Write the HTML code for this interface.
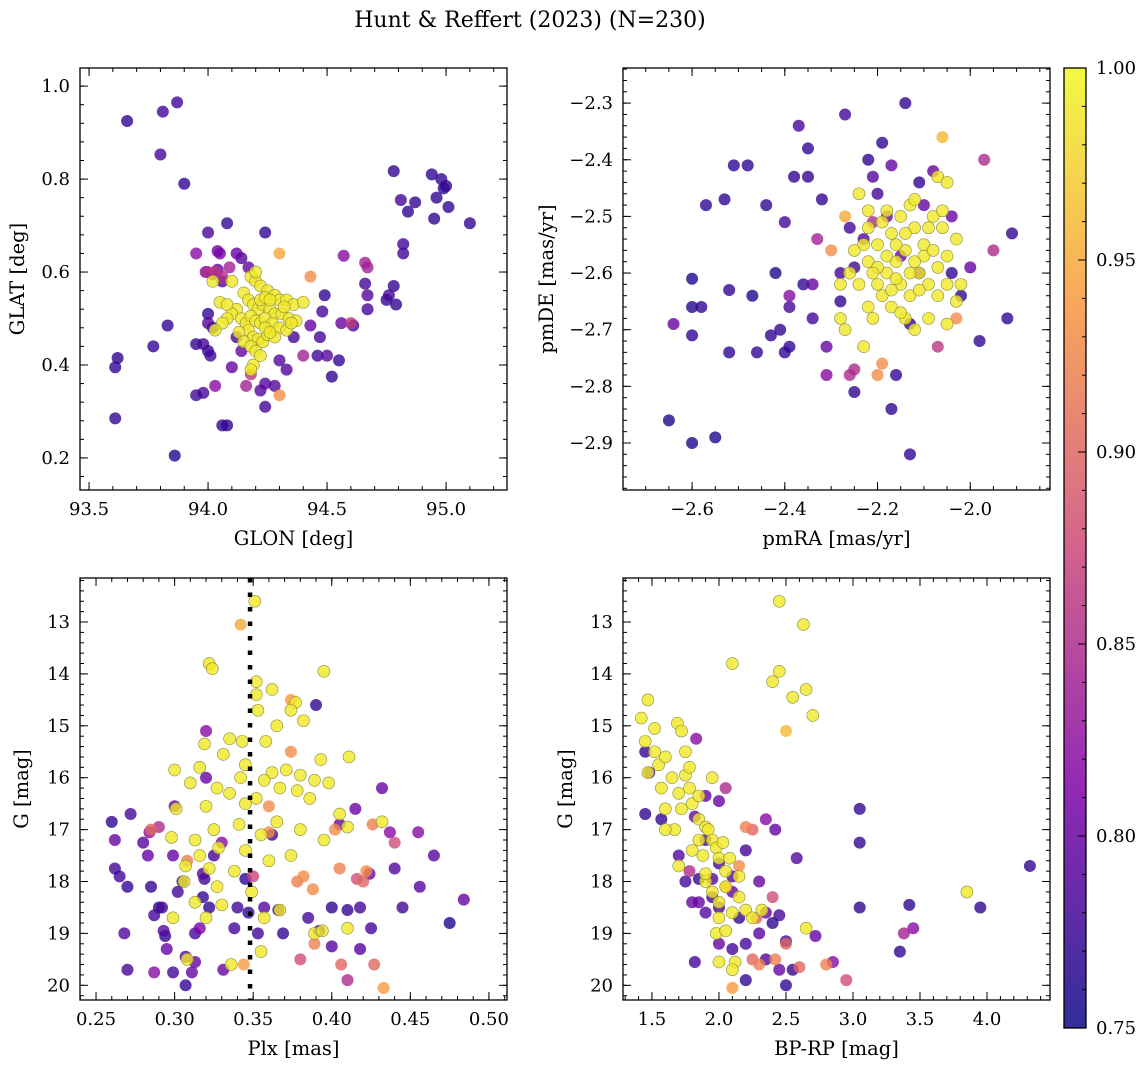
<!DOCTYPE html>
<html><head><meta charset="utf-8"><style>
html,body{margin:0;padding:0;background:#fff;}
svg{display:block;font-family:"DejaVu Serif","Liberation Serif",serif;}
</style></head><body>
<svg id="fig" width="1148" height="1067" viewBox="0 0 1148 1067" xmlns="http://www.w3.org/2000/svg">
<text x="530" y="27" font-size="22" text-anchor="middle">Hunt &amp; Reffert (2023) (N=230)</text>
</svg>
<script>
// ===== Panel 1: GLON / GLAT =====
const p1Glon=[94.18,94.20,94.22,94.25,94.28,94.30,94.33,94.36,94.40,94.15,94.17,94.19,94.21,94.23,94.26,94.28,94.31,94.34,94.37,94.12,94.10,94.08,94.06,94.03,94.14,94.16,94.18,94.20,94.22,94.24,94.27,94.30,94.33,94.17,94.19,94.21,94.23,94.25,94.28,94.13,94.15,94.18,94.20,94.22,94.19,94.18,94.24,94.26,94.10,94.20,94.22,94.24,94.26,94.32,94.05,94.08,94.35,94.02,
94.30,94.43,94.30,94.00,94.03,94.09,94.16,94.03,94.06,94.60,94.57,94.66,94.67,94.18,94.40,
93.66,93.81,93.87,93.80,93.90,93.61,93.62,93.61,93.86,93.77,93.83,93.95,93.95,93.98,94.00,94.01,94.00,94.02,94.00,94.08,94.24,94.06,94.08,93.95,94.04,94.05,94.12,94.14,93.99,94.02,94.04,94.06,94.00,94.24,94.30,94.78,94.94,94.98,94.99,95.00,94.81,94.87,94.84,94.96,95.01,94.95,95.10,94.82,94.82,94.78,94.76,94.75,94.66,94.67,94.79,94.67,94.56,94.61,94.49,94.48,94.55,94.52,94.46,94.50,94.47,94.43,94.33,94.12,94.14,94.24,94.28,94.10,93.98,94.36,94.17,94.22];
const p1Glat=[0.59,0.58,0.57,0.56,0.55,0.54,0.54,0.53,0.535,0.555,0.54,0.53,0.52,0.53,0.52,0.51,0.51,0.50,0.495,0.52,0.51,0.50,0.49,0.475,0.50,0.49,0.505,0.495,0.49,0.50,0.49,0.48,0.475,0.475,0.46,0.455,0.45,0.465,0.46,0.47,0.45,0.44,0.43,0.42,0.40,0.39,0.48,0.47,0.58,0.60,0.54,0.545,0.54,0.525,0.535,0.53,0.49,0.58,
0.64,0.59,0.335,0.60,0.60,0.61,0.355,0.355,0.59,0.49,0.635,0.62,0.61,0.38,0.42,
0.925,0.945,0.965,0.853,0.79,0.395,0.415,0.285,0.205,0.44,0.485,0.335,0.445,0.445,0.43,0.42,0.49,0.48,0.685,0.705,0.685,0.27,0.27,0.64,0.645,0.64,0.64,0.63,0.60,0.595,0.605,0.58,0.51,0.31,0.41,0.817,0.81,0.80,0.78,0.785,0.755,0.75,0.73,0.76,0.74,0.715,0.705,0.66,0.64,0.57,0.55,0.54,0.575,0.55,0.53,0.52,0.49,0.485,0.55,0.515,0.41,0.375,0.42,0.42,0.46,0.485,0.39,0.46,0.43,0.36,0.355,0.395,0.34,0.46,0.61,0.345];
const p1Prob=[.99,.99,.99,.99,.99,.99,.99,.99,.99,.99,.99,.99,.99,.99,.99,.99,.99,.99,.99,.99,.99,.99,.99,.99,.99,.99,.99,.99,.99,.99,.99,.99,.99,.99,.99,.99,.99,.99,.99,.99,.99,.99,.99,.99,.99,.99,.99,.99,.99,.99,.99,.99,.99,.99,.99,.99,.99,.99,
.95,.93,.93,.85,.86,.84,.84,.82,.85,.86,.82,.84,.84,.86,.84,
.77,.78,.78,.78,.77,.77,.77,.77,.76,.77,.77,.78,.77,.78,.77,.78,.79,.77,.78,.77,.77,.77,.77,.82,.8,.81,.8,.79,.82,.81,.8,.79,.77,.78,.79,.77,.77,.77,.77,.77,.78,.77,.77,.77,.77,.77,.77,.78,.78,.77,.78,.77,.78,.79,.77,.78,.8,.78,.77,.78,.77,.77,.78,.79,.78,.8,.79,.78,.8,.79,.79,.8,.78,.78,.8,.79];
const p1XTicks=[93.5,94.0,94.5,95.0];
const p1YTicks=[0.2,0.4,0.6,0.8,1.0];

// ===== Panel 2: pmRA / pmDE =====
const p2Pmra=[-2.65,-2.60,-2.55,-2.64,-2.60,-2.60,-2.58,-2.60,-2.57,-2.53,-2.51,-2.48,-2.52,-2.52,-2.47,-2.46,-2.44,-2.43,-2.41,-2.40,-2.39,-2.42,-2.40,-2.39,-2.39,-2.38,-2.37,-2.35,-2.36,-2.35,-2.34,-2.34,-2.33,-2.32,-2.30,-2.31,-2.28,-2.28,-2.27,-2.27,-2.26,-2.25,-2.26,-2.25,-2.22,-2.21,-2.19,-2.18,-2.20,-2.17,-2.14,-2.13,-2.13,-2.16,-2.17,-2.15,-2.11,-2.08,-2.10,-2.04,-2.02,-1.98,-1.92,-1.91,-1.95,-1.97,-2.07,-2.03,-2.00,-2.23,-2.19,-2.20,-2.31,-2.21,-2.25,-2.11,-2.04,-2.06,
-2.24,-2.22,-2.20,-2.18,-2.17,-2.15,-2.13,-2.12,-2.10,-2.08,-2.06,-2.05,-2.03,-2.07,-2.12,-2.14,-2.16,-2.18,-2.20,-2.22,-2.24,-2.26,-2.28,-2.28,-2.27,-2.23,-2.21,-2.19,-2.17,-2.15,-2.13,-2.11,-2.09,-2.07,-2.05,-2.03,-2.07,-2.05,-2.09,-2.12,-2.14,-2.16,-2.18,-2.20,-2.10,-2.08,-2.12,-2.14,-2.16,-2.23,-2.19,-2.06,-2.02,-2.09,-2.25,-2.11,-2.13,-2.17,-2.21,-2.15,-2.22,-2.05,-2.22];
const p2Pmde=[-2.86,-2.90,-2.89,-2.69,-2.61,-2.66,-2.66,-2.71,-2.48,-2.47,-2.41,-2.41,-2.63,-2.74,-2.64,-2.74,-2.48,-2.71,-2.70,-2.74,-2.73,-2.60,-2.51,-2.64,-2.66,-2.43,-2.34,-2.43,-2.62,-2.38,-2.68,-2.62,-2.54,-2.47,-2.56,-2.73,-2.60,-2.65,-2.32,-2.50,-2.52,-2.81,-2.78,-2.77,-2.40,-2.43,-2.37,-2.50,-2.46,-2.41,-2.30,-2.92,-2.69,-2.78,-2.84,-2.57,-2.44,-2.42,-2.48,-2.60,-2.64,-2.72,-2.68,-2.53,-2.56,-2.40,-2.73,-2.68,-2.59,-2.54,-2.76,-2.78,-2.78,-2.51,-2.59,-2.60,-2.50,-2.36,
-2.46,-2.52,-2.55,-2.49,-2.53,-2.50,-2.48,-2.52,-2.55,-2.50,-2.52,-2.57,-2.54,-2.43,-2.47,-2.56,-2.58,-2.60,-2.62,-2.58,-2.62,-2.60,-2.62,-2.68,-2.70,-2.73,-2.68,-2.64,-2.66,-2.62,-2.64,-2.60,-2.62,-2.59,-2.62,-2.65,-2.64,-2.69,-2.68,-2.70,-2.68,-2.61,-2.57,-2.59,-2.57,-2.56,-2.58,-2.53,-2.55,-2.55,-2.51,-2.49,-2.62,-2.52,-2.56,-2.63,-2.60,-2.63,-2.60,-2.67,-2.66,-2.44,-2.49];
const p2Prob=[.76,.76,.76,.8,.76,.76,.77,.77,.77,.77,.77,.77,.77,.77,.76,.77,.77,.77,.77,.77,.77,.76,.78,.82,.78,.77,.78,.77,.77,.77,.78,.8,.84,.77,.93,.8,.78,.77,.78,.95,.78,.77,.85,.85,.77,.79,.77,.8,.78,.8,.77,.77,.77,.77,.77,.8,.77,.8,.8,.77,.77,.77,.77,.77,.85,.85,.86,.93,.8,.79,.93,.93,.82,.85,.78,.8,.8,.96,
.99,.99,.99,.99,.99,.99,.99,.99,.99,.99,.99,.99,.99,.99,.99,.99,.99,.99,.99,.99,.99,.99,.99,.99,.99,.99,.99,.99,.99,.99,.99,.99,.99,.99,.99,.99,.99,.99,.99,.99,.99,.99,.99,.99,.99,.99,.99,.99,.99,.99,.99,.99,.99,.99,.99,.99,.99,.99,.99,.99,.99,.99,.99];
const p2XTicks=[-2.6,-2.4,-2.2,-2.0];
const p2YTicks=[-2.9,-2.8,-2.7,-2.6,-2.5,-2.4,-2.3];

// ===== Panel 3: Plx / G =====
const p3Plx=[0.351,0.322,0.324,0.395,0.362,0.352,0.352,0.353,0.377,0.374,0.365,0.382,0.343,0.335,0.319,0.358,0.331,0.393,0.411,0.300,0.316,0.345,0.362,0.371,0.380,0.389,0.357,0.342,0.327,0.310,0.335,0.367,0.378,0.398,0.352,0.345,0.320,0.301,0.386,0.405,0.365,0.341,0.325,0.313,0.298,0.355,0.380,0.395,0.410,0.432,0.328,0.345,0.316,0.307,0.322,0.338,0.360,0.374,0.306,0.327,0.349,0.313,0.330,0.299,0.320,0.357,0.367,0.389,0.394,0.410,0.308,0.336,0.355,
0.342,0.374,0.374,0.360,0.285,0.308,0.360,0.382,0.378,0.388,0.405,0.422,0.440,0.416,0.420,0.389,0.406,0.427,0.433,0.344,0.380,0.402,0.426,0.410,0.350,
0.260,0.262,0.262,0.265,0.270,0.268,0.270,0.272,0.280,0.283,0.285,0.287,0.287,0.290,0.292,0.293,0.294,0.295,0.299,0.300,0.302,0.305,0.307,0.311,0.313,0.313,0.318,0.316,0.318,0.320,0.320,0.319,0.322,0.325,0.307,0.331,0.338,0.340,0.345,0.347,0.353,0.357,0.362,0.366,0.369,0.385,0.390,0.392,0.400,0.400,0.405,0.410,0.415,0.418,0.418,0.425,0.424,0.432,0.437,0.440,0.445,0.455,0.456,0.475,0.484,0.465,0.330,0.299,0.290,0.284];
const p3G=[12.6,13.8,13.9,13.95,14.3,14.15,14.4,14.7,14.55,14.7,15.0,14.9,15.3,15.25,15.35,15.3,15.55,15.65,15.6,15.85,15.8,15.75,15.9,15.85,15.95,16.05,16.05,16.0,16.2,16.1,16.3,16.2,16.25,16.1,16.4,16.5,16.55,16.6,16.4,16.7,16.85,16.9,17.0,17.2,17.15,17.1,17.0,17.2,16.95,16.85,17.35,17.4,17.5,17.7,17.75,17.8,17.6,17.5,18.0,18.1,18.2,18.4,18.45,18.7,18.7,18.7,18.55,19.0,18.95,18.9,19.5,19.6,19.35,
13.05,14.5,15.5,16.55,17.0,17.6,17.05,17.9,18.0,18.15,17.75,17.8,17.25,17.95,18.0,19.2,19.6,19.6,20.05,19.6,19.5,17.0,16.9,19.9,17.9,
16.85,17.2,17.75,17.9,18.1,19.0,19.7,16.7,17.25,17.5,18.1,18.65,19.75,18.5,18.5,18.95,19.05,19.3,19.75,16.55,18.2,18.0,19.45,19.75,19.55,19.0,18.3,18.9,17.85,15.1,16.0,17.95,18.5,17.5,20.0,19.7,18.9,18.5,17.95,18.6,19.0,18.5,17.1,18.55,19.0,18.7,14.6,18.95,18.5,19.25,16.9,18.55,16.6,18.5,19.3,18.9,17.85,16.2,17.05,17.75,18.5,17.05,18.1,18.8,18.35,17.5,17.25,17.5,16.95,17.05];
const p3Prob=[.99,.99,.99,.99,.99,.99,.99,.99,.99,.99,.99,.99,.99,.99,.99,.99,.99,.99,.99,.99,.99,.99,.99,.99,.99,.99,.99,.99,.99,.99,.99,.99,.99,.99,.99,.99,.99,.99,.99,.99,.99,.99,.99,.99,.99,.99,.99,.99,.99,.99,.99,.99,.99,.99,.99,.99,.99,.99,.99,.99,.99,.99,.99,.99,.99,.99,.99,.99,.99,.99,.99,.99,.99,
.95,.94,.93,.93,.9,.92,.93,.93,.92,.93,.92,.93,.88,.88,.9,.92,.9,.9,.94,.94,.88,.93,.92,.85,.87,
.77,.8,.78,.78,.77,.79,.78,.78,.79,.8,.77,.78,.82,.77,.78,.79,.77,.8,.78,.8,.78,.77,.79,.8,.8,.78,.77,.81,.79,.82,.8,.78,.77,.78,.77,.8,.78,.78,.77,.77,.78,.79,.78,.77,.77,.78,.77,.78,.77,.79,.8,.77,.8,.78,.79,.78,.8,.8,.82,.79,.78,.82,.79,.76,.8,.79,.82,.8,.85,.82];
const p3XTicks=[0.25,0.30,0.35,0.40,0.45,0.50];
const gTicks=[13,14,15,16,17,18,19,20];
const plxLine=[0.348];

// ===== Panel 4: BP-RP / G =====
const p4Bprp=[1.42,1.47,1.52,1.45,1.47,1.52,1.55,1.57,1.60,1.60,1.65,1.69,1.72,1.75,1.75,1.70,1.72,1.67,1.78,1.80,1.85,1.90,1.85,1.80,1.88,1.92,1.95,1.98,2.00,2.05,2.03,2.08,1.90,1.95,2.00,2.05,2.10,2.15,2.20,2.00,1.98,2.05,2.12,2.00,2.10,2.45,2.63,2.10,2.40,2.45,2.55,2.65,2.70,2.50,3.85,2.65,2.32,1.60,1.70,1.90,2.15,2.25,1.95,1.85,1.78,1.83,
2.10,2.42,2.60,2.80,2.95,2.30,2.25,2.50,2.25,2.15,2.40,2.28,2.20,2.05,
1.45,1.48,1.45,1.57,1.82,1.90,1.70,1.75,1.80,1.85,1.95,1.90,2.00,2.10,2.15,2.20,2.30,2.35,2.40,2.45,2.50,2.55,2.45,2.50,2.35,2.10,2.20,2.00,1.82,2.72,2.85,3.05,3.05,3.05,3.35,3.42,3.38,3.45,3.95,4.32,2.58,2.42,2.35,2.20,2.10,2.30,2.00,1.95,1.85,1.78,2.05,2.00,1.90];
const p4G=[14.85,14.5,15.05,15.3,15.9,15.5,15.75,16.2,15.6,16.6,16.0,14.95,15.1,15.5,15.95,16.3,16.6,17.0,16.2,16.5,16.8,16.95,17.2,17.4,17.5,17.0,17.2,17.35,17.55,17.8,17.25,17.55,18.0,18.2,18.4,18.1,18.6,18.3,18.55,18.7,19.0,18.95,19.55,19.55,19.7,12.6,13.05,13.8,14.15,13.95,14.45,14.3,14.8,15.1,18.2,18.9,18.55,17.0,17.7,17.85,17.9,18.7,16.0,16.35,15.8,15.25,
20.05,19.5,19.65,19.6,19.9,19.6,19.5,19.2,17.0,17.7,18.3,18.7,16.95,18.1,
15.5,15.9,16.7,16.8,16.75,17.2,17.5,18.0,18.4,17.95,18.3,18.6,18.5,18.2,18.7,19.2,19.0,18.6,18.8,18.65,19.15,19.7,19.7,20.0,19.5,19.3,19.9,19.2,19.55,19.05,19.55,16.6,17.25,18.5,19.35,18.45,19.0,18.9,18.5,17.7,17.55,17.0,16.8,17.4,17.9,18.0,17.65,17.95,18.4,17.8,16.2,16.45,16.35];
const p4Prob=[.99,.99,.99,.99,.99,.99,.99,.99,.99,.99,.99,.99,.99,.99,.99,.99,.99,.99,.99,.99,.99,.99,.99,.99,.99,.99,.99,.99,.99,.99,.99,.99,.99,.99,.99,.99,.99,.99,.99,.99,.99,.99,.99,.99,.99,.99,.99,.99,.99,.99,.99,.99,.99,.96,.99,.99,.99,.99,.99,.99,.99,.99,.99,.99,.99,.82,
.94,.92,.9,.92,.88,.92,.9,.9,.9,.93,.88,.9,.92,.93,
.77,.78,.77,.77,.8,.78,.79,.78,.8,.77,.78,.79,.78,.8,.77,.78,.79,.8,.77,.78,.78,.77,.8,.77,.79,.78,.77,.8,.78,.8,.82,.77,.77,.77,.77,.77,.84,.82,.77,.77,.79,.8,.82,.78,.79,.8,.78,.79,.8,.85,.85,.8,.8];
const p4XTicks=[1.5,2.0,2.5,3.0,3.5,4.0];

// ===== Colorbar =====
const cbTicks=[0.75,0.80,0.85,0.90,0.95,1.00];
const cbRange=[0.75,1.00];

const NS="http://www.w3.org/2000/svg";
const svg=document.getElementById('fig');
function mk(tag,attrs,parent){const e=document.createElementNS(NS,tag);for(const k in attrs)e.setAttribute(k,attrs[k]);(parent||svg).appendChild(e);return e;}
const stops=[[0,[13,8,135]],[0.25,[126,3,168]],[0.5,[204,71,120]],[0.75,[248,149,64]],[1,[240,249,33]]];
function plasma(t){t=Math.max(0,Math.min(1,t));for(let i=0;i<stops.length-1;i++){const a=stops[i],b=stops[i+1];if(t<=b[0]){const f=(t-a[0])/(b[0]-a[0]);return 'rgb('+a[1].map((v,j)=>Math.round(v+(b[1][j]-v)*f)).join(',')+')';}}return 'rgb(240,249,33)';}
function cnorm(p){return (p-cbRange[0])/(cbRange[1]-cbRange[0]);}
function fmt(v,d){return (v<0?'\u2212':'')+Math.abs(v).toFixed(d);}
const TICKFS=18, LABFS=19.5;

function panel(o){
  const g=mk('g',{});
  
  
  const L=o.box[0],T=o.box[1],R=o.box[2],B=o.box[3];
  const sx=v=>L+(v-o.xr[0])/(o.xr[1]-o.xr[0])*(R-L);
  const sy=o.yinv?(v=>T+(v-o.yr[0])/(o.yr[1]-o.yr[0])*(B-T)):(v=>B-(v-o.yr[0])/(o.yr[1]-o.yr[0])*(B-T));
  const pts=mk('g',{},g);
  
  
  const idx=o.x.map((_,i)=>i).sort((a,b)=>o.c[a]-o.c[b]);
  idx.forEach(i=>{
    const hi=o.c[i]>0.97;
    const c=mk('circle',{cx:sx(o.x[i]),cy:sy(o.y[i]),r:6,fill:plasma(cnorm(o.c[i])),'fill-opacity':0.8,stroke:hi?'#8a8a40':'none','stroke-width':0.6},pts);
    
    
  });
  if(o.vline){o.vline.forEach(v=>{const l=mk('line',{x1:sx(v),x2:sx(v),y1:T,y2:B,stroke:'#000','stroke-width':4.5,'stroke-dasharray':'4.5 10'},g);
    
    });}
  const fr=mk('rect',{x:L,y:T,width:R-L,height:B-T,fill:'none',stroke:'#000','stroke-width':1.3},g);
  
  
  const tk=mk('g',{stroke:'#000','stroke-width':1},g);
  
  
  const xmin=Math.min(...o.xr),xmax=Math.max(...o.xr),ymin=Math.min(...o.yr),ymax=Math.max(...o.yr);
  for(let v=Math.ceil(xmin/o.xminor-1e-6)*o.xminor;v<=xmax+1e-9;v+=o.xminor){const X=sx(v);mk('line',{x1:X,x2:X,y1:B,y2:B-4},tk);mk('line',{x1:X,x2:X,y1:T,y2:T+4},tk);}
  for(let v=Math.ceil(ymin/o.yminor-1e-6)*o.yminor;v<=ymax+1e-9;v+=o.yminor){const Y=sy(v);mk('line',{x1:L,x2:L+4,y1:Y,y2:Y},tk);mk('line',{x1:R,x2:R-4,y1:Y,y2:Y},tk);}
  o.xt.forEach(v=>{const X=sx(v);mk('line',{x1:X,x2:X,y1:B,y2:B-8},tk);mk('line',{x1:X,x2:X,y1:T,y2:T+8},tk);
    const t=mk('text',{x:X,y:B+25,'font-size':TICKFS,'text-anchor':'middle'},g);t.textContent=fmt(v,o.xd);
    
    });
  o.yt.forEach(v=>{const Y=sy(v);mk('line',{x1:L,x2:L+8,y1:Y,y2:Y},tk);mk('line',{x1:R,x2:R-8,y1:Y,y2:Y},tk);
    const t=mk('text',{x:L-10,y:Y+6,'font-size':TICKFS,'text-anchor':'end'},g);t.textContent=fmt(v,o.yd);
    
    });
  const xl=mk('text',{x:(L+R)/2,y:B+55,'font-size':LABFS,'text-anchor':'middle'},g);xl.textContent=o.xlab;
  
  
  const yx=o.ylx,yy=(T+B)/2;
  const yl=mk('text',{x:yx,y:yy,'font-size':LABFS,'text-anchor':'middle',transform:'rotate(-90 '+yx+' '+yy+')'},g);yl.textContent=o.ylab;
  
  
}
panel({name:'glon-glat-panel',box:[80,68,507,490],xr:[93.462,95.256],yr:[0.131,1.039],x:p1Glon,y:p1Glat,c:p1Prob,xt:p1XTicks,yt:p1YTicks,xminor:0.1,yminor:0.04,xd:1,yd:1,xlab:'GLON [deg]',ylab:'GLAT [deg]',ylx:24});
panel({name:'proper-motion-panel',box:[623,68,1050,490],xr:[-2.749,-1.828],yr:[-2.983,-2.238],x:p2Pmra,y:p2Pmde,c:p2Prob,xt:p2XTicks,yt:p2YTicks,xminor:0.05,yminor:0.02,xd:1,yd:1,xlab:'pmRA [mas/yr]',ylab:'pmDE [mas/yr]',ylx:553});
panel({name:'parallax-magnitude-panel',box:[80,578,507,1000],xr:[0.2398,0.5115],yr:[12.152,20.283],yinv:true,x:p3Plx,y:p3G,c:p3Prob,xt:p3XTicks,yt:gTicks,xminor:0.01,yminor:0.2,xd:2,yd:0,xlab:'Plx [mas]',ylab:'G [mag]',ylx:28,vline:plxLine});
panel({name:'color-magnitude-panel',box:[623,578,1050,1000],xr:[1.284,4.47],yr:[12.152,20.283],yinv:true,x:p4Bprp,y:p4G,c:p4Prob,xt:p4XTicks,yt:gTicks,xminor:0.1,yminor:0.2,xd:1,yd:0,xlab:'BP-RP [mag]',ylab:'G [mag]',ylx:572});

// colorbar
(function(){
  const L=1064,R=1086,T=68,B=1028;
  const g=mk('g',{});
  
  
  const defs=mk('defs',{},g);
  const lg=mk('linearGradient',{id:'cbg',x1:0,y1:1,x2:0,y2:0},defs);
  for(let i=0;i<=20;i++){mk('stop',{offset:i/20,'stop-color':plasma(i/20),'stop-opacity':0.85},lg);}
  const r=mk('rect',{x:L,y:T,width:R-L,height:B-T,fill:'url(#cbg)',stroke:'#000','stroke-width':1.3},g);
  
  
  const sy=v=>B-(v-cbRange[0])/(cbRange[1]-cbRange[0])*(B-T);
  for(let v=0.75;v<=1.0001;v+=0.01){mk('line',{x1:R,x2:R-4,y1:sy(v),y2:sy(v),stroke:'#000'},g);}
  cbTicks.forEach(v=>{const Y=sy(v);mk('line',{x1:R,x2:R-8,y1:Y,y2:Y,stroke:'#000'},g);
    const t=mk('text',{x:R+10,y:Y+6,'font-size':TICKFS},g);t.textContent=v.toFixed(2);
    
    });
})();
</script>
</body></html>
